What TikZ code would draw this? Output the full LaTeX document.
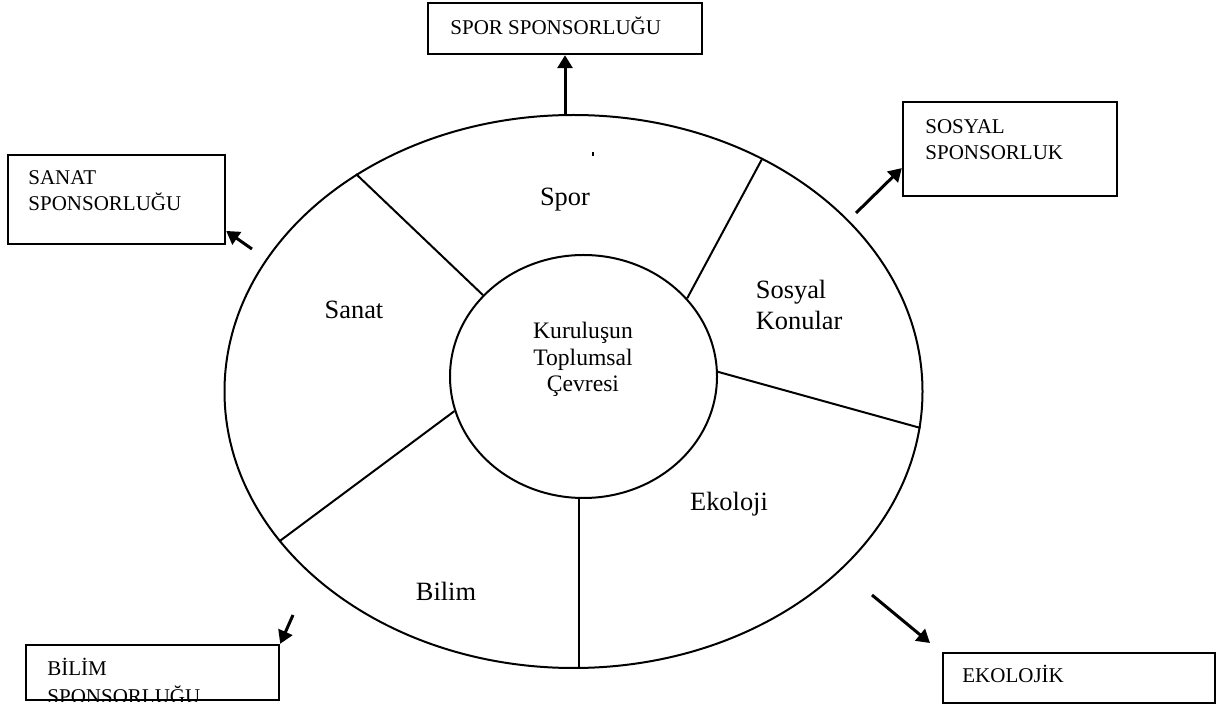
\documentclass[tikz,border=0pt]{standalone}
\usepackage{fontspec}
\setmainfont{Liberation Serif}
\usetikzlibrary{shapes.geometric}
\usetikzlibrary{arrows.meta}

\begin{document}
\begin{tikzpicture}[x=0.5pt, y=-0.5pt,
	ring/.style={draw, ellipse, line width=1pt, inner sep=0pt},
	spoke/.style={line width=1pt},
	kutu/.style={draw, line width=1.2pt, inner sep=0pt},
	kututext/.style={font=\fontsize{10.5}{13}\selectfont, align=left, inner sep=0pt, anchor=base west},
	alan/.style={font=\fontsize{13.2}{15.7}\selectfont, align=left, inner sep=0pt},
	merkez/.style={font=\fontsize{11.8}{13.3}\selectfont, align=center, inner sep=0pt, anchor=base},
	ok/.style={line width=1.5pt, -{Triangle[length=6.5pt,width=7.5pt]}}]
	\useasboundingbox (0,0) rectangle (1232,705);

	\node[ring, minimum width=349pt, minimum height=276.5pt] (dis) at (573.5,391.5) {};
	\node[ring, minimum width=133.5pt, minimum height=121.5pt] (ic) at (583.5,376.5) {};
	\node[merkez] (cevre) at (583,391.7) {Kuruluşun\\Toplumsal\\Çevresi};

	\draw[spoke] (ic.141.7) -- (dis.135);
	\draw[spoke] (ic.37) -- (dis.51.9);
	\draw[spoke] (ic.2.8) -- (dis.354.3);
	\draw[spoke] (ic.268) -- (ic.268 |- dis.south);
	\draw[spoke] (ic.195.6) -- (dis.207.3);
	\fill (592,152) rectangle (594,156);

	\node[alan, anchor=base] (spor) at (565,205.4) {Spor};
	\node[alan, anchor=base] (sanat) at (354,318.3) {Sanat};
	\node[alan, anchor=base west] (sosyal) at (755.5,330) {Sosyal\\Konular};
	\node[alan, anchor=base] (ekoloji) at (729,510.7) {Ekoloji};
	\node[alan, anchor=base] (bilim) at (446,600) {Bilim};

	\node[kutu, minimum width=137pt, minimum height=25.5pt] (sporkutu) at (565,28.5) {};
	\node[kutu, minimum width=107pt, minimum height=47pt] (sosyalkutu) at (1010,149) {};
	\node[kutu, minimum width=108.5pt, minimum height=44.5pt] (sanatkutu) at (116.5,199.5) {};
	\node[kutu, minimum width=126.5pt, minimum height=27.5pt] (bilimkutu) at (152.5,672.5) {};
	\node[kutu, minimum width=136pt, minimum height=25pt] (ekokutu) at (1079,678) {};

	\node[kututext] (sporyazi) at (450,34.3) {SPOR SPONSORLUĞU};
	\node[kututext] (sosyalyazi) at (925,159.3) {SOSYAL\\SPONSORLUK};
	\node[kututext] (sanatyazi) at (28,210.7) {SANAT\\SPONSORLUĞU};
	\begin{scope}
		\clip (bilimkutu.north west) rectangle (bilimkutu.south east);
		\node[kututext, font=\fontsize{10.5}{14}\selectfont] (bilimyazi) at (47,703) {BİLİM\\SPONSORLUĞU};
	\end{scope}
	\node[kututext] (ekoyazi) at (962,682.7) {EKOLOJİK};

	\coordinate (sosyalcikis) at (856,213);
	\coordinate (sanatcikis) at (252,249);
	\coordinate (bilimcikis) at (293,615);
	\coordinate (ekocikis) at (872,595);
	\coordinate (ekoucu) at (930,643);

	\draw[ok] (dis.north -| sporkutu.south) -- (sporkutu.south);
	\draw[ok] (sosyalcikis) -- (sosyalkutu.190.6);
	\draw[ok] (sanatcikis) -- (sanatkutu.-16);
	\draw[ok] (bilimcikis) -- (bilimkutu.north east);
	\draw[ok] (ekocikis) -- (ekoucu);
\end{tikzpicture}
\end{document}
